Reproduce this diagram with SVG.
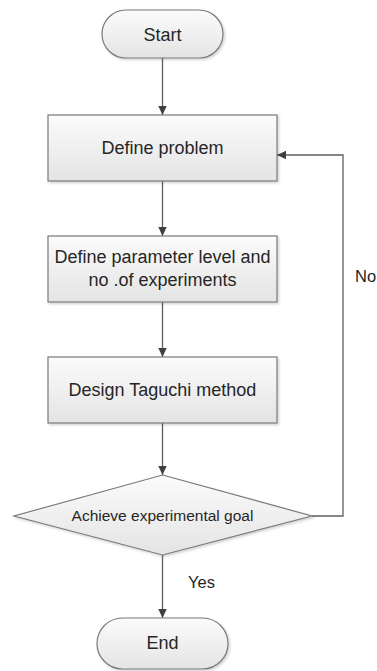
<svg xmlns="http://www.w3.org/2000/svg" width="377" height="671" viewBox="0 0 377 671">
<style>
.shape{fill:url(#g);stroke:#7a7a7a;stroke-width:1.2;filter:url(#sh)}
.lbl{font-family:"Liberation Sans",Arial,sans-serif;font-size:18px;fill:#262626;text-anchor:middle}
.sm{font-size:15.5px}
.edge{fill:none;stroke:#5f5f5f;stroke-width:1.3}
.note{font-family:"Liberation Sans",Arial,sans-serif;font-size:16.5px;fill:#262626}
</style>
<defs>
<linearGradient id="g" x1="0" y1="0" x2="0" y2="1">
<stop offset="0" stop-color="#fbfbfb"/>
<stop offset="1" stop-color="#e4e4e4"/>
</linearGradient>
<filter id="sh" x="-10%" y="-10%" width="125%" height="135%">
<feDropShadow dx="1.5" dy="1.5" stdDeviation="1" flood-color="#000" flood-opacity="0.18"/>
</filter>
<marker id="ah" markerWidth="10" markerHeight="10" refX="9" refY="5" orient="auto" markerUnits="userSpaceOnUse">
<path d="M0,0.8 L9,5 L0,9.2 Z" fill="#3f3f3f"/>
</marker>
</defs>
<rect width="377" height="671" fill="#ffffff"/>
<g id="connectors">
<line class="edge" x1="162.5" y1="58" x2="162.5" y2="115" marker-end="url(#ah)"/>
<line class="edge" x1="162.5" y1="181" x2="162.5" y2="236" marker-end="url(#ah)"/>
<line class="edge" x1="162.5" y1="302" x2="162.5" y2="357" marker-end="url(#ah)"/>
<line class="edge" x1="162.5" y1="423" x2="162.5" y2="475" marker-end="url(#ah)"/>
<line class="edge" x1="162.5" y1="555" x2="162.5" y2="618" marker-end="url(#ah)"/>
<polyline class="edge" points="312,516 343,516 343,155 277,155" marker-end="url(#ah)"/>
<text class="note" x="355" y="282">No</text>
<text class="note" x="188" y="588">Yes</text>
</g>
<g id="start">
<rect class="shape" x="102" y="10" width="121" height="48" rx="24" ry="24"/>
<text class="lbl" x="162.5" y="41">Start</text>
</g>
<g id="define-problem">
<rect class="shape" x="48" y="115" width="229" height="66"/>
<text class="lbl" x="162.5" y="154">Define problem</text>
</g>
<g id="define-parameter">
<rect class="shape" x="48" y="236" width="229" height="66"/>
<text class="lbl" x="162.5" y="263">Define parameter level and</text>
<text class="lbl" x="162.5" y="286">no .of experiments</text>
</g>
<g id="design-taguchi">
<rect class="shape" x="48" y="357" width="229" height="66"/>
<text class="lbl" x="162.5" y="396">Design Taguchi method</text>
</g>
<g id="decision">
<polygon class="shape" points="162.5,475 312,516 162.5,555 14,516"/>
<text class="lbl sm" x="162.5" y="521">Achieve experimental goal</text>
</g>
<g id="end">
<rect class="shape" x="97" y="618" width="131" height="51" rx="25.5" ry="25.5"/>
<text class="lbl" x="162.5" y="649">End</text>
</g>
</svg>
